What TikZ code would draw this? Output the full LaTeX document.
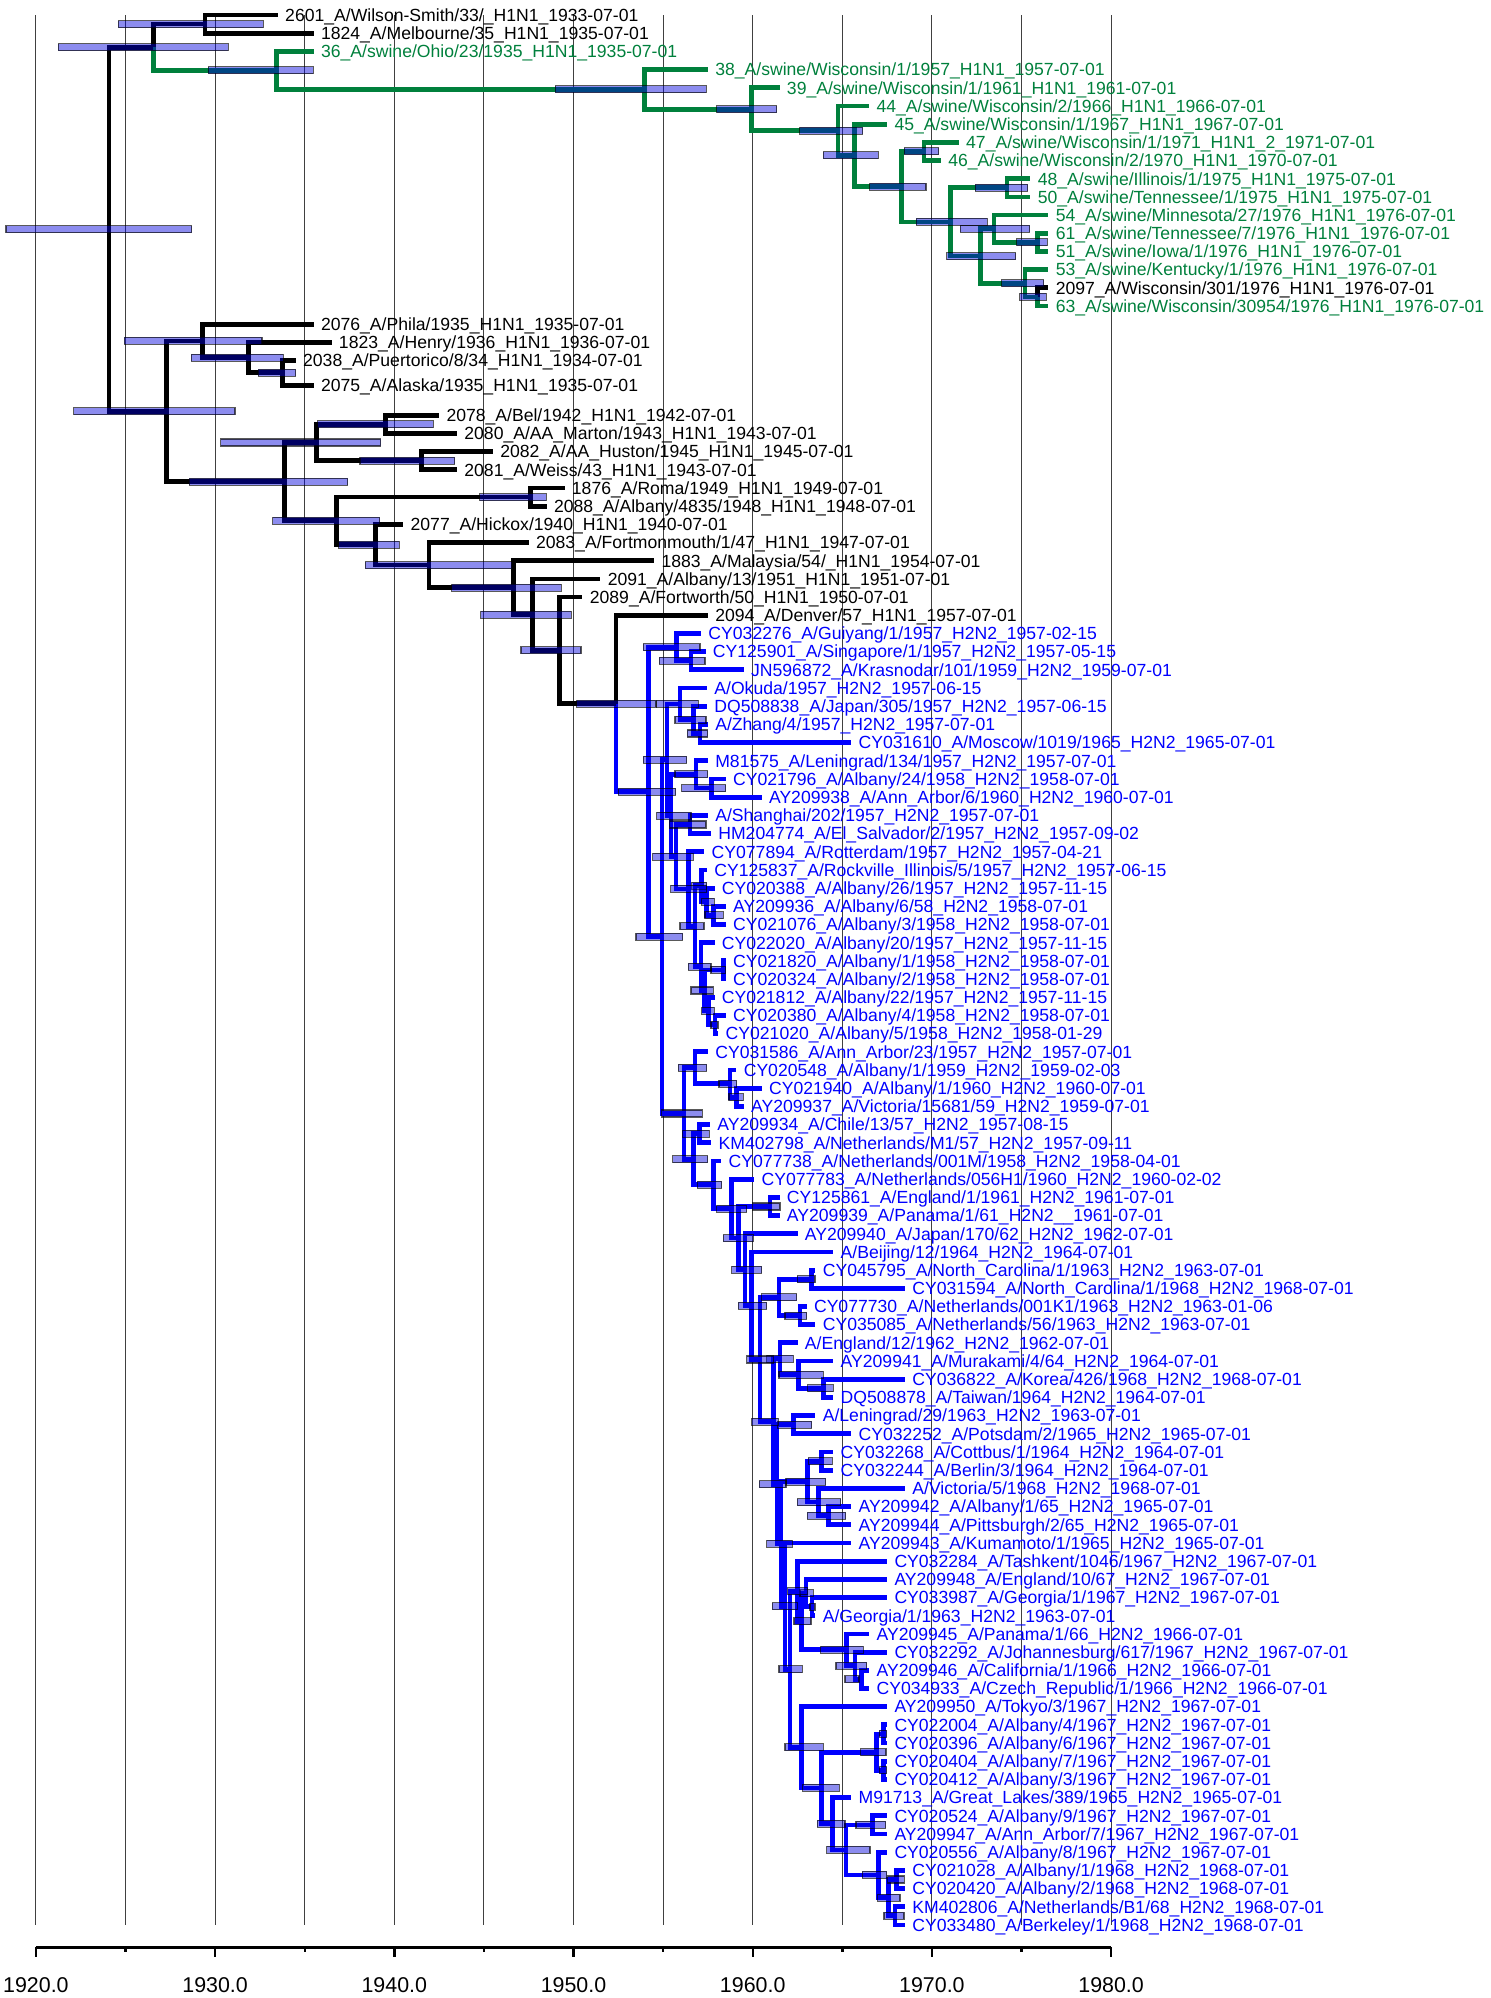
\documentclass[tikz,border=0pt]{standalone}
\usepackage{fontspec}
\setmainfont{Liberation Sans}
\usetikzlibrary{calc}
\pgfdeclarelayer{fg}
\pgfsetlayers{main,fg}
\definecolor{grn}{RGB}{0,128,60}
\definecolor{blu}{RGB}{0,0,255}
\definecolor{blk}{RGB}{0,0,0}
\definecolor{hpdfill}{RGB}{0,0,220}
\tikzset{
 br/.style={line width=2.4pt, line join=miter, line cap=butt},
 hpd/.style={fill=hpdfill, fill opacity=0.45, draw=black, draw opacity=0.65, line width=0.55pt},
 lbl/.style={anchor=base west, inner sep=0pt, xshift=3.5pt, yshift=-3.15pt, font=\fontsize{8.8}{10}\selectfont},
 gridln/.style={black!75, line width=0.55pt},
 axlbl/.style={inner sep=0pt, font=\fontsize{10.7}{12}\selectfont}
}
\newcommand\leaf[5]{%
 \coordinate (#1) at ({35.9+(#3-1920)*17.92},{15+18.19*#2});%
 \node[lbl,text=#4] (#1l) at (#1) {\detokenize{#5}};%
}
\newcommand\inode[8]{%
 \path let \p1=(#3), \p2=(#4) in (#2*0.5pt,{0.5*\y1+0.5*\y2}) coordinate (#1);%
 \draw[br,#5] (#1) |- (#3);%
 \draw[br,#6] (#1) |- (#4);%
 \begin{pgfonlayer}{fg}%
 \draw[hpd] let \p1=(#1) in (#7*0.5pt,\y1+1.75pt) rectangle (#8*0.5pt,\y1-1.75pt);%
 \end{pgfonlayer}%
}
\begin{document}
\begin{tikzpicture}[x=0.5pt,y=-0.5pt]
\useasboundingbox (0,0) rectangle (1490,1998);
% grid
\foreach \k in {0,...,12} \draw[gridln] ({35.9+\k*89.6},15) -- ({35.9+\k*89.6},1925);
% axis
\draw[line width=1.5pt] (35.9,1947) -- (1111.1,1947);
\foreach \k in {0,2,...,12} \draw[line width=1.2pt] ({35.9+\k*89.6},1947) -- ({35.9+\k*89.6},1957);
\foreach \k in {1,3,...,11} \draw[line width=1.2pt] ({35.9+\k*89.6},1947) -- ({35.9+\k*89.6},1952);
\foreach \k/\yy in {0/1920.0,2/1930.0,4/1940.0,6/1950.0,8/1960.0,10/1970.0,12/1980.0}
 \node[axlbl] (ax\k) at ({35.9+\k*89.6},1985.5) {\yy};
% leaves
\leaf{k0}{0}{1933.5}{blk}{2601_A/Wilson-Smith/33/_H1N1_1933-07-01}
\leaf{k1}{1}{1935.5}{blk}{1824_A/Melbourne/35_H1N1_1935-07-01}
\leaf{k2}{2}{1935.5}{grn}{36_A/swine/Ohio/23/1935_H1N1_1935-07-01}
\leaf{k3}{3}{1957.5}{grn}{38_A/swine/Wisconsin/1/1957_H1N1_1957-07-01}
\leaf{k4}{4}{1961.5}{grn}{39_A/swine/Wisconsin/1/1961_H1N1_1961-07-01}
\leaf{k5}{5}{1966.5}{grn}{44_A/swine/Wisconsin/2/1966_H1N1_1966-07-01}
\leaf{k6}{6}{1967.5}{grn}{45_A/swine/Wisconsin/1/1967_H1N1_1967-07-01}
\leaf{k7}{7}{1971.5}{grn}{47_A/swine/Wisconsin/1/1971_H1N1_2_1971-07-01}
\leaf{k8}{8}{1970.5}{grn}{46_A/swine/Wisconsin/2/1970_H1N1_1970-07-01}
\leaf{k9}{9}{1975.5}{grn}{48_A/swine/Illinois/1/1975_H1N1_1975-07-01}
\leaf{k10}{10}{1975.5}{grn}{50_A/swine/Tennessee/1/1975_H1N1_1975-07-01}
\leaf{k11}{11}{1976.5}{grn}{54_A/swine/Minnesota/27/1976_H1N1_1976-07-01}
\leaf{k12}{12}{1976.5}{grn}{61_A/swine/Tennessee/7/1976_H1N1_1976-07-01}
\leaf{k13}{13}{1976.5}{grn}{51_A/swine/Iowa/1/1976_H1N1_1976-07-01}
\leaf{k14}{14}{1976.5}{grn}{53_A/swine/Kentucky/1/1976_H1N1_1976-07-01}
\leaf{k15}{15}{1976.5}{blk}{2097_A/Wisconsin/301/1976_H1N1_1976-07-01}
\leaf{k16}{16}{1976.5}{grn}{63_A/swine/Wisconsin/30954/1976_H1N1_1976-07-01}
\leaf{k17}{17}{1935.5}{blk}{2076_A/Phila/1935_H1N1_1935-07-01}
\leaf{k18}{18}{1936.5}{blk}{1823_A/Henry/1936_H1N1_1936-07-01}
\leaf{k19}{19}{1934.5}{blk}{2038_A/Puertorico/8/34_H1N1_1934-07-01}
\leaf{k20}{20.35}{1935.5}{blk}{2075_A/Alaska/1935_H1N1_1935-07-01}
\leaf{k22}{22}{1942.5}{blk}{2078_A/Bel/1942_H1N1_1942-07-01}
\leaf{k23}{23}{1943.5}{blk}{2080_A/AA_Marton/1943_H1N1_1943-07-01}
\leaf{k24}{24}{1945.5}{blk}{2082_A/AA_Huston/1945_H1N1_1945-07-01}
\leaf{k25}{25}{1943.5}{blk}{2081_A/Weiss/43_H1N1_1943-07-01}
\leaf{k26}{26}{1949.5}{blk}{1876_A/Roma/1949_H1N1_1949-07-01}
\leaf{k27}{27}{1948.5}{blk}{2088_A/Albany/4835/1948_H1N1_1948-07-01}
\leaf{k28}{28}{1940.5}{blk}{2077_A/Hickox/1940_H1N1_1940-07-01}
\leaf{k29}{29}{1947.5}{blk}{2083_A/Fortmonmouth/1/47_H1N1_1947-07-01}
\leaf{k30}{30}{1954.5}{blk}{1883_A/Malaysia/54/_H1N1_1954-07-01}
\leaf{k31}{31}{1951.5}{blk}{2091_A/Albany/13/1951_H1N1_1951-07-01}
\leaf{k32}{32}{1950.5}{blk}{2089_A/Fortworth/50_H1N1_1950-07-01}
\leaf{k33}{33}{1957.5}{blk}{2094_A/Denver/57_H1N1_1957-07-01}
\leaf{b34}{34}{1957.12}{blu}{CY032276_A/Guiyang/1/1957_H2N2_1957-02-15}
\leaf{b35}{35}{1957.37}{blu}{CY125901_A/Singapore/1/1957_H2N2_1957-05-15}
\leaf{b36}{36}{1959.5}{blu}{JN596872_A/Krasnodar/101/1959_H2N2_1959-07-01}
\leaf{b37}{37}{1957.45}{blu}{A/Okuda/1957_H2N2_1957-06-15}
\leaf{b38}{38}{1957.45}{blu}{DQ508838_A/Japan/305/1957_H2N2_1957-06-15}
\leaf{b39}{39}{1957.5}{blu}{A/Zhang/4/1957_H2N2_1957-07-01}
\leaf{b40}{40}{1965.5}{blu}{CY031610_A/Moscow/1019/1965_H2N2_1965-07-01}
\leaf{b41}{41}{1957.5}{blu}{M81575_A/Leningrad/134/1957_H2N2_1957-07-01}
\leaf{b42}{42}{1958.5}{blu}{CY021796_A/Albany/24/1958_H2N2_1958-07-01}
\leaf{b43}{43}{1960.5}{blu}{AY209938_A/Ann_Arbor/6/1960_H2N2_1960-07-01}
\leaf{b44}{44}{1957.5}{blu}{A/Shanghai/202/1957_H2N2_1957-07-01}
\leaf{b45}{45}{1957.67}{blu}{HM204774_A/El_Salvador/2/1957_H2N2_1957-09-02}
\leaf{b46}{46}{1957.3}{blu}{CY077894_A/Rotterdam/1957_H2N2_1957-04-21}
\leaf{b47}{47}{1957.45}{blu}{CY125837_A/Rockville_Illinois/5/1957_H2N2_1957-06-15}
\leaf{b48}{48}{1957.87}{blu}{CY020388_A/Albany/26/1957_H2N2_1957-11-15}
\leaf{b49}{49}{1958.5}{blu}{AY209936_A/Albany/6/58_H2N2_1958-07-01}
\leaf{b50}{50}{1958.5}{blu}{CY021076_A/Albany/3/1958_H2N2_1958-07-01}
\leaf{b51}{51}{1957.87}{blu}{CY022020_A/Albany/20/1957_H2N2_1957-11-15}
\leaf{b52}{52}{1958.5}{blu}{CY021820_A/Albany/1/1958_H2N2_1958-07-01}
\leaf{b53}{53}{1958.5}{blu}{CY020324_A/Albany/2/1958_H2N2_1958-07-01}
\leaf{b54}{54}{1957.87}{blu}{CY021812_A/Albany/22/1957_H2N2_1957-11-15}
\leaf{b55}{55}{1958.5}{blu}{CY020380_A/Albany/4/1958_H2N2_1958-07-01}
\leaf{b56}{56}{1958.08}{blu}{CY021020_A/Albany/5/1958_H2N2_1958-01-29}
\leaf{b57}{57}{1957.5}{blu}{CY031586_A/Ann_Arbor/23/1957_H2N2_1957-07-01}
\leaf{b58}{58}{1959.09}{blu}{CY020548_A/Albany/1/1959_H2N2_1959-02-03}
\leaf{b59}{59}{1960.5}{blu}{CY021940_A/Albany/1/1960_H2N2_1960-07-01}
\leaf{b60}{60}{1959.5}{blu}{AY209937_A/Victoria/15681/59_H2N2_1959-07-01}
\leaf{b61}{61}{1957.62}{blu}{AY209934_A/Chile/13/57_H2N2_1957-08-15}
\leaf{b62}{62}{1957.69}{blu}{KM402798_A/Netherlands/M1/57_H2N2_1957-09-11}
\leaf{b63}{63}{1958.25}{blu}{CY077738_A/Netherlands/001M/1958_H2N2_1958-04-01}
\leaf{b64}{64}{1960.09}{blu}{CY077783_A/Netherlands/056H1/1960_H2N2_1960-02-02}
\leaf{b65}{65}{1961.5}{blu}{CY125861_A/England/1/1961_H2N2_1961-07-01}
\leaf{b66}{66}{1961.5}{blu}{AY209939_A/Panama/1/61_H2N2__1961-07-01}
\leaf{b67}{67}{1962.5}{blu}{AY209940_A/Japan/170/62_H2N2_1962-07-01}
\leaf{b68}{68}{1964.5}{blu}{A/Beijing/12/1964_H2N2_1964-07-01}
\leaf{b69}{69}{1963.5}{blu}{CY045795_A/North_Carolina/1/1963_H2N2_1963-07-01}
\leaf{b70}{70}{1968.5}{blu}{CY031594_A/North_Carolina/1/1968_H2N2_1968-07-01}
\leaf{b71}{71}{1963.01}{blu}{CY077730_A/Netherlands/001K1/1963_H2N2_1963-01-06}
\leaf{b72}{72}{1963.5}{blu}{CY035085_A/Netherlands/56/1963_H2N2_1963-07-01}
\leaf{b73}{73}{1962.5}{blu}{A/England/12/1962_H2N2_1962-07-01}
\leaf{b74}{74}{1964.5}{blu}{AY209941_A/Murakami/4/64_H2N2_1964-07-01}
\leaf{b75}{75}{1968.5}{blu}{CY036822_A/Korea/426/1968_H2N2_1968-07-01}
\leaf{b76}{76}{1964.5}{blu}{DQ508878_A/Taiwan/1964_H2N2_1964-07-01}
\leaf{b77}{77}{1963.5}{blu}{A/Leningrad/29/1963_H2N2_1963-07-01}
\leaf{b78}{78}{1965.5}{blu}{CY032252_A/Potsdam/2/1965_H2N2_1965-07-01}
\leaf{b79}{79}{1964.5}{blu}{CY032268_A/Cottbus/1/1964_H2N2_1964-07-01}
\leaf{b80}{80}{1964.5}{blu}{CY032244_A/Berlin/3/1964_H2N2_1964-07-01}
\leaf{b81}{81}{1968.5}{blu}{A/Victoria/5/1968_H2N2_1968-07-01}
\leaf{b82}{82}{1965.5}{blu}{AY209942_A/Albany/1/65_H2N2_1965-07-01}
\leaf{b83}{83}{1965.5}{blu}{AY209944_A/Pittsburgh/2/65_H2N2_1965-07-01}
\leaf{b84}{84}{1965.5}{blu}{AY209943_A/Kumamoto/1/1965_H2N2_1965-07-01}
\leaf{b85}{85}{1967.5}{blu}{CY032284_A/Tashkent/1046/1967_H2N2_1967-07-01}
\leaf{b86}{86}{1967.5}{blu}{AY209948_A/England/10/67_H2N2_1967-07-01}
\leaf{b87}{87}{1967.5}{blu}{CY033987_A/Georgia/1/1967_H2N2_1967-07-01}
\leaf{b88}{88}{1963.5}{blu}{A/Georgia/1/1963_H2N2_1963-07-01}
\leaf{b89}{89}{1966.5}{blu}{AY209945_A/Panama/1/66_H2N2_1966-07-01}
\leaf{b90}{90}{1967.5}{blu}{CY032292_A/Johannesburg/617/1967_H2N2_1967-07-01}
\leaf{b91}{91}{1966.5}{blu}{AY209946_A/California/1/1966_H2N2_1966-07-01}
\leaf{b92}{92}{1966.5}{blu}{CY034933_A/Czech_Republic/1/1966_H2N2_1966-07-01}
\leaf{b93}{93}{1967.5}{blu}{AY209950_A/Tokyo/3/1967_H2N2_1967-07-01}
\leaf{b94}{94}{1967.5}{blu}{CY022004_A/Albany/4/1967_H2N2_1967-07-01}
\leaf{b95}{95}{1967.5}{blu}{CY020396_A/Albany/6/1967_H2N2_1967-07-01}
\leaf{b96}{96}{1967.5}{blu}{CY020404_A/Albany/7/1967_H2N2_1967-07-01}
\leaf{b97}{97}{1967.5}{blu}{CY020412_A/Albany/3/1967_H2N2_1967-07-01}
\leaf{b98}{98}{1965.5}{blu}{M91713_A/Great_Lakes/389/1965_H2N2_1965-07-01}
\leaf{b99}{99}{1967.5}{blu}{CY020524_A/Albany/9/1967_H2N2_1967-07-01}
\leaf{b100}{100}{1967.5}{blu}{AY209947_A/Ann_Arbor/7/1967_H2N2_1967-07-01}
\leaf{b101}{101}{1967.5}{blu}{CY020556_A/Albany/8/1967_H2N2_1967-07-01}
\leaf{b102}{102}{1968.5}{blu}{CY021028_A/Albany/1/1968_H2N2_1968-07-01}
\leaf{b103}{103}{1968.5}{blu}{CY020420_A/Albany/2/1968_H2N2_1968-07-01}
\leaf{b104}{104}{1968.5}{blu}{KM402806_A/Netherlands/B1/68_H2N2_1968-07-01}
\leaf{b105}{105}{1968.5}{blu}{CY033480_A/Berkeley/1/1968_H2N2_1968-07-01}
% green / swine clade
\inode{D13}{1037.5}{k15}{k16}{blk}{grn}{1019.7}{1046.2}
\inode{D11}{1024.9}{k14}{D13}{grn}{grn}{1001.9}{1043.5}
\inode{D12}{1037.5}{k12}{k13}{grn}{grn}{1016.6}{1047.4}
\inode{D10}{994}{k11}{D12}{grn}{grn}{960.4}{1029.6}
\inode{D9}{980.2}{D10}{D11}{grn}{grn}{946.6}{1015.8}
\inode{D8}{1007}{k9}{k10}{grn}{grn}{975.4}{1027.6}
\inode{D7}{950.5}{D8}{D9}{grn}{grn}{916.1}{987.3}
\inode{D6}{924}{k7}{k8}{grn}{grn}{904.3}{938.7}
\inode{D5}{901.1}{D6}{D7}{grn}{grn}{869.5}{926}
\inode{D4}{854.8}{k6}{D5}{grn}{grn}{823.2}{878.2}
\inode{D3}{837.9}{k5}{D4}{grn}{grn}{799.5}{862.8}
\inode{D2}{751.3}{k4}{D3}{grn}{grn}{716.5}{776.6}
\inode{D1}{644.1}{k3}{D2}{grn}{grn}{555.1}{706.2}
\inode{C1}{276.7}{k2}{D1}{grn}{grn}{208.3}{313.3}
\inode{A1}{205}{k0}{k1}{blk}{blk}{118.3}{263.3}
\inode{B1}{153.3}{A1}{C1}{blk}{grn}{58.3}{228.3}
% black H1N1
\inode{I1}{282.7}{k19}{k20}{blk}{blk}{258.2}{295.7}
\inode{H1}{248.3}{k18}{I1}{blk}{blk}{191.4}{283.2}
\inode{F1}{202.7}{k17}{H1}{blk}{blk}{124.3}{262}
\inode{K1}{385.7}{k22}{k23}{blk}{blk}{317.9}{433.2}
\inode{L1}{421.4}{k24}{k25}{blk}{blk}{360}{454.6}
\inode{J1}{316.4}{K1}{L1}{blk}{blk}{220.7}{380.7}
\inode{N1}{530.7}{k26}{k27}{blk}{blk}{479.6}{546.4}
% blue H2N2
\inode{U2}{691}{b35}{b36}{blu}{blu}{659.3}{705}
\inode{U1}{676.7}{b34}{U2}{blu}{blu}{643.3}{700}
\inode{V3}{700}{b39}{b40}{blu}{blu}{687.3}{707.7}
\inode{V2}{693.3}{b38}{V3}{blu}{blu}{675}{706}
\inode{V1}{680}{b37}{V2}{blu}{blu}{656.7}{698.3}
\inode{Z2}{711.7}{b42}{b43}{blu}{blu}{681.7}{725.7}
\inode{Z1}{696}{b41}{Z2}{blu}{blu}{675}{707.7}
\inode{Z3}{690}{b44}{b45}{blu}{blu}{669.3}{706}
\inode{C49}{713.3}{b49}{b50}{blu}{blu}{705}{723.3}
\inode{C48}{706.7}{b48}{C49}{blu}{blu}{701.7}{714.3}
\inode{C47}{701.7}{b47}{C48}{blu}{blu}{691.7}{706.7}
\inode{C52}{723.3}{b52}{b53}{blu}{blu}{711}{725.7}
\inode{C55}{715}{b55}{b56}{blu}{blu}{711}{718}
\inode{C54}{708.3}{b54}{C55}{blu}{blu}{701.7}{714.3}
\inode{C53x}{704.5}{C52}{C54}{blu}{blu}{691}{713.3}
\inode{C52x}{701}{b51}{C53x}{blu}{blu}{688.3}{711}
\inode{Z6}{695}{C47}{C52x}{blu}{blu}{680}{704}
\inode{Z5}{688.3}{b46}{Z6}{blu}{blu}{670.7}{706.7}
\inode{Z4}{676}{Z3}{Z5}{blu}{blu}{652.7}{693.3}
\inode{W2}{671}{Z1}{Z4}{blu}{blu}{656.7}{691}
\inode{W1}{666.9}{V1}{W2}{blu}{blu}{643.3}{686.7}
\inode{C59}{736.7}{b59}{b60}{blu}{blu}{729}{743.3}
\inode{C58}{730}{b58}{C59}{blu}{blu}{719}{736.7}
\inode{C57}{695}{b57}{C58}{blu}{blu}{678.3}{706.7}
\inode{C61}{699.3}{b61}{b62}{blu}{blu}{682.3}{709.3}
\inode{C65}{770}{b65}{b66}{blu}{blu}{752.7}{780}
\inode{C69}{811.7}{b69}{b70}{blu}{blu}{797.3}{815}
\inode{C71}{800}{b71}{b72}{blu}{blu}{785}{806.7}
\inode{C70}{779}{C69}{C71}{blu}{blu}{761.7}{796.7}
\inode{C75}{823.3}{b75}{b76}{blu}{blu}{807.7}{833.3}
\inode{C74}{798.3}{b74}{C75}{blu}{blu}{779}{823.3}
\inode{C73}{780}{b73}{C74}{blu}{blu}{766.7}{793.3}
\inode{C77}{793.3}{b77}{b78}{blu}{blu}{777.3}{811.7}
\inode{C79}{821.7}{b79}{b80}{blu}{blu}{808.3}{832.3}
\inode{C82}{828.3}{b82}{b83}{blu}{blu}{807.3}{845.7}
\inode{C81}{818.3}{b81}{C82}{blu}{blu}{797.3}{840.7}
\inode{C79x}{807.3}{C79}{C81}{blu}{blu}{786}{825.7}
\inode{C87}{812}{b87}{b88}{blu}{blu}{810}{815}
\inode{C86}{806}{b86}{C87}{blu}{blu}{800}{813.3}
\inode{C91}{861.7}{b91}{b92}{blu}{blu}{845}{859}
\inode{C90}{855}{b90}{C91}{blu}{blu}{836}{866.7}
\inode{C89}{846.7}{b89}{C90}{blu}{blu}{820.7}{863.3}
\inode{H88}{801.7}{C86}{C89}{blu}{blu}{794}{811}
\inode{H85}{797.7}{b85}{H88}{blu}{blu}{787.7}{807.7}
\inode{C94}{883.3}{b94}{b95}{blu}{blu}{879.3}{886.7}
\inode{C96}{883.3}{b96}{b97}{blu}{blu}{879.3}{886.7}
\inode{C95}{876.7}{C94}{C96}{blu}{blu}{860.7}{886}
\inode{C99}{872.7}{b99}{b100}{blu}{blu}{856}{885.7}
\inode{C102}{896.7}{b102}{b103}{blu}{blu}{887.7}{904.3}
\inode{C104}{895}{b104}{b105}{blu}{blu}{884}{904}
\inode{C103}{888.3}{C102}{C104}{blu}{blu}{877.7}{900}
\inode{C101}{878.3}{b101}{C103}{blu}{blu}{862.3}{886.7}
\inode{P99}{846}{C99}{C101}{blu}{blu}{826.7}{870}
\inode{P98}{832.7}{b98}{P99}{blu}{blu}{817.3}{845}
\inode{P95}{821.7}{C95}{P98}{blu}{blu}{802.7}{839.3}
\inode{P93}{801.7}{b93}{P95}{blu}{blu}{785}{823.3}
\inode{K90}{790}{H85}{P93}{blu}{blu}{779}{802.3}
\inode{K87}{785}{b84}{K90}{blu}{blu}{772.3}{797.3}
\inode{K84}{781}{C79x}{K87}{blu}{blu}{766.7}{792.3}
\inode{L80}{777}{C77}{K84}{blu}{blu}{759.3}{786}
\inode{M77}{773.3}{C73}{L80}{blu}{blu}{751.7}{778.3}
\inode{M73}{760}{C70}{M77}{blu}{blu}{746.7}{773.3}
\inode{M70}{751.7}{b68}{M73}{blu}{blu}{738.3}{766.7}
\inode{M69}{745}{b67}{M70}{blu}{blu}{731.7}{761.7}
\inode{M67}{738.3}{C65}{M69}{blu}{blu}{723.3}{753.3}
\inode{M65}{731.7}{b64}{M67}{blu}{blu}{716.7}{746.7}
\inode{M64}{713.3}{b63}{M65}{blu}{blu}{697.3}{721.7}
\inode{M62}{693.3}{C61}{M64}{blu}{blu}{672.7}{707.7}
\inode{Y1}{684}{C57}{M62}{blu}{blu}{661.7}{702.3}
\inode{X1}{662}{W1}{Y1}{blu}{blu}{636}{682.7}
\inode{U0}{648.3}{U1}{X1}{blu}{blu}{618.3}{675.7}
% black backbone
\inode{T1}{616}{k33}{U0}{blk}{blu}{576.7}{656}
\inode{S1}{559.3}{k32}{T1}{blk}{blk}{521}{581}
\inode{R1}{532.3}{k31}{S1}{blk}{blk}{480.7}{571.4}
\inode{Q1}{513.6}{k30}{R1}{blk}{blk}{451.8}{561.1}
\inode{P1}{428.9}{k29}{Q1}{blk}{blk}{365.4}{511.8}
\inode{O1}{375.4}{k28}{P1}{blk}{blk}{338.6}{399.3}
\inode{M1}{336.8}{N1}{O1}{blk}{blk}{272.5}{379.6}
\inode{G1}{284.3}{J1}{M1}{blk}{blk}{189.3}{347.5}
\inode{E1}{166.5}{F1}{G1}{blk}{blk}{73.6}{235}
\inode{Root}{109}{B1}{E1}{blk}{blk}{6}{191.7}
\end{tikzpicture}
\end{document}
